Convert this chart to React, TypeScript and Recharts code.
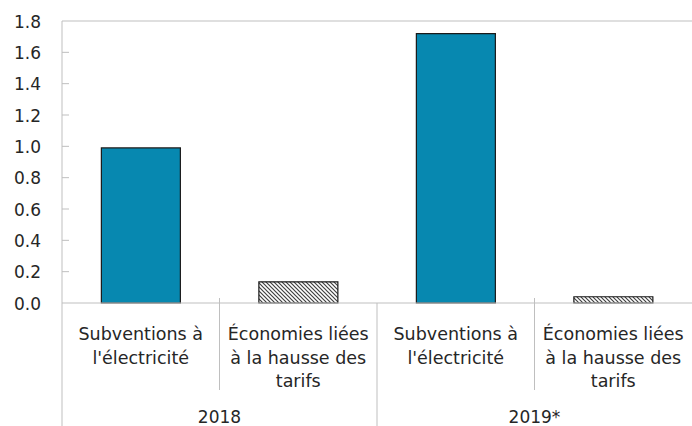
import React from "react";
import { BarChart, Bar, XAxis, YAxis, Cell, ReferenceLine } from "recharts";

const categoryLines: string[][] = [
  ["Subventions à", "l'électricité"],
  ["Économies liées", "à la hausse des", "tarifs"],
  ["Subventions à", "l'électricité"],
  ["Économies liées", "à la hausse des", "tarifs"],
];
const categoryKinds = ["subvention", "economie", "subvention", "economie"];
const years = ["2018", "2018", "2019*", "2019*"];
const values = [0.99, 0.135, 1.72, 0.04];
const yTicks = [0, 0.2, 0.4, 0.6, 0.8, 1.0, 1.2, 1.4, 1.6, 1.8];

const data = values.map((v, i) => ({
  key: String(i),
  lines: categoryLines[i],
  year: years[i],
  kind: categoryKinds[i],
  value: v,
}));

const W = 692;
const H = 426;
const LEFT = 62;
const TOP = 21;
const AXIS1_H = 87;
const AXIS2_H = 36;
const PLOT_W = W - LEFT;
const BAND = PLOT_W / data.length;
const FONT = "'DejaVu Sans', sans-serif";
const TEXT = "#262626";
const GRID = "#bfbfbf";
const TEAL = "#0788b0";

const YTick = (props: any) => {
  const { x, y, payload } = props;
  const axisX = LEFT;
  return (
    <g>
      {payload.value > 0 && payload.value < 1.8 && (
        <line x1={axisX} x2={axisX + 7} y1={y} y2={y} stroke={GRID} strokeWidth={1} />
      )}
      <text x={x} y={y + 6.5} textAnchor="end" fontFamily={FONT} fontSize={17} fill={TEXT}>
        {Number(payload.value).toFixed(1)}
      </text>
    </g>
  );
};

const CatTick = (props: any) => {
  const { x, y, index } = props;
  const lines: string[] = categoryLines[index] || [];
  const left = x - BAND / 2;
  return (
    <g>
      {index % 2 === 1 && (
        <line x1={left} x2={left} y1={y - 5} y2={y + AXIS1_H} stroke={GRID} strokeWidth={1} />
      )}
      {lines.map((l, i) => (
        <text
          key={i}
          x={x}
          y={y + 37 + i * 23.5}
          textAnchor="middle"
          fontFamily={FONT}
          fontSize={17.5}
          fill={TEXT}
        >
          {l}
        </text>
      ))}
    </g>
  );
};

const YearTick = (props: any) => {
  const { x, y, payload } = props;
  const left = x - BAND;
  return (
    <g>
      <line x1={left} x2={left} y1={y - AXIS1_H} y2={H} stroke={GRID} strokeWidth={1} />
      <text x={x} y={y + 33} textAnchor="middle" fontFamily={FONT} fontSize={17} fill={TEXT}>
        {payload.value}
      </text>
    </g>
  );
};

export default function App() {
  return (
    <div style={{ position: "absolute", left: 0, top: 0, background: "#fff" }}>
      <BarChart
        width={W}
        height={H}
        data={data}
        margin={{ top: TOP, right: 0, left: 0, bottom: 0 }}
        barCategoryGap="25%"
      >
        <defs>
          <pattern id="hatch" patternUnits="userSpaceOnUse" width={4} height={4}>
            <rect width={4} height={4} fill="#ffffff" />
            <path
              d="M0,0 L4,4 M-1,3 L1,5 M3,-1 L5,1"
              stroke="#404040"
              strokeWidth={1.2}
            />
          </pattern>
        </defs>
        <YAxis
          width={LEFT}
          domain={[0, 1.8]}
          ticks={yTicks}
          interval={0}
          tickSize={0}
          tickMargin={21}
          tickLine={false}
          axisLine={{ stroke: GRID }}
          tick={<YTick />}
        />
        <XAxis
          dataKey="key"
          height={AXIS1_H}
          interval={0}
          tickSize={0}
          tickMargin={0}
          tickLine={false}
          axisLine={{ stroke: GRID }}
          tick={<CatTick />}
        />
        <XAxis
          xAxisId="year"
          dataKey="year"
          allowDuplicatedCategory={false}
          height={AXIS2_H}
          interval={0}
          tickSize={0}
          tickMargin={0}
          tickLine={false}
          axisLine={false}
          tick={<YearTick />}
        />
        <ReferenceLine y={1.8} stroke={GRID} strokeWidth={1} />
        <Bar dataKey="value" isAnimationActive={false} stroke="#1a1a1a" strokeWidth={1.2}>
          {data.map((d, i) => (
            <Cell key={i} fill={d.kind === "subvention" ? TEAL : "url(#hatch)"} />
          ))}
        </Bar>
      </BarChart>
    </div>
  );
}
